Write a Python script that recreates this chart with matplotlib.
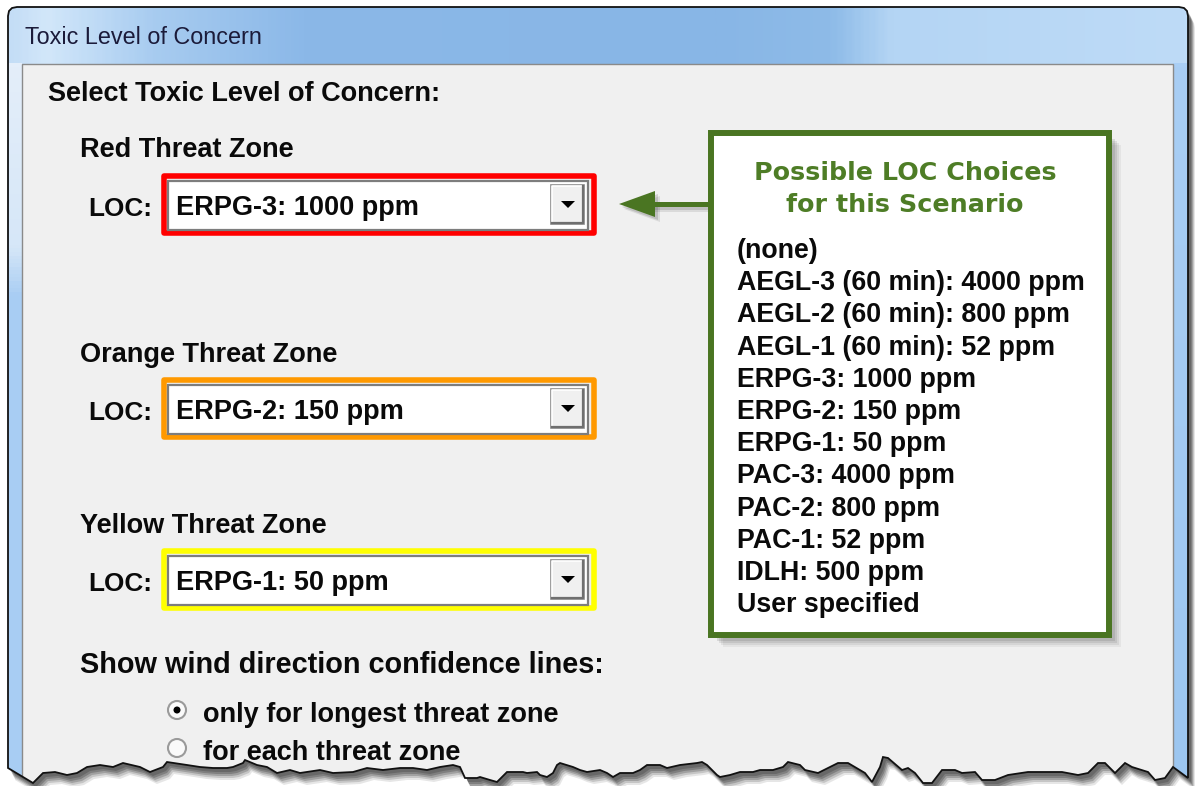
import numpy as np
import matplotlib.pyplot as plt
from matplotlib.patches import Rectangle, Polygon, Circle
from matplotlib.colors import LinearSegmentedColormap

title = "Toxic Level of Concern"
heading = "Select Toxic Level of Concern:"
zones = ["Red Threat Zone", "Orange Threat Zone", "Yellow Threat Zone"]
zone_colors = ["#ff0000", "#ff9900", "#ffff00"]
selected = ["ERPG-3: 1000 ppm", "ERPG-2: 150 ppm", "ERPG-1: 50 ppm"]
callout_title = ["Possible LOC Choices", "for this Scenario"]
loc_choices = ["(none)", "AEGL-3 (60 min): 4000 ppm", "AEGL-2 (60 min): 800 ppm",
               "AEGL-1 (60 min): 52 ppm", "ERPG-3: 1000 ppm", "ERPG-2: 150 ppm",
               "ERPG-1: 50 ppm", "PAC-3: 4000 ppm", "PAC-2: 800 ppm", "PAC-1: 52 ppm",
               "IDLH: 500 ppm", "User specified"]
wind_label = "Show wind direction confidence lines:"
wind_options = ["only for longest threat zone", "for each threat zone"]
wind_selected = 0

# torn bottom edge of the screenshot (pixels)
tear_x = [8, 33, 43, 55, 67, 77, 87, 100, 113, 123, 140, 150, 163, 167, 187, 200, 213, 227,
          233, 243, 245, 257, 267, 277, 290, 300, 320, 333, 353, 367, 383, 400, 413, 427,
          440, 453, 460, 465, 477, 480, 490, 497, 507, 523, 527, 537, 540, 547, 553, 557,
          560, 573, 580, 587, 600, 607, 613, 620, 633, 640, 647, 660, 667, 680, 697, 702,
          707, 717, 720, 730, 740, 753, 760, 773, 783, 788, 800, 805, 818, 838, 848, 865,
          872, 880, 883, 888, 902, 908, 915, 923, 932, 942, 955, 962, 975, 982, 995, 1008,
          1028, 1062, 1078, 1088, 1098, 1105, 1115, 1125, 1132, 1148, 1155, 1165, 1173, 1188]
tear_y = [768, 783, 773, 772, 775, 773, 767, 765, 767, 763, 767, 772, 767, 762, 765, 767, 768, 768,
          767, 763, 760, 765, 767, 773, 770, 773, 770, 773, 772, 768, 770, 768, 768, 770,
          767, 765, 767, 778, 778, 777, 780, 782, 772, 772, 773, 772, 775, 777, 773, 765,
          763, 767, 770, 772, 770, 773, 777, 773, 773, 770, 765, 765, 768, 765, 763, 762,
          765, 775, 777, 775, 772, 772, 770, 770, 767, 762, 765, 770, 773, 763, 763, 773,
          782, 767, 757, 758, 770, 768, 773, 783, 783, 770, 770, 773, 772, 780, 780, 775,
          772, 772, 775, 773, 763, 763, 773, 763, 767, 772, 780, 778, 767, 778]

W, H = 1195, 786
fig = plt.figure(figsize=(W / 100, H / 100), dpi=100)
ax = fig.add_axes([0, 0, 1, 1])
ax.set_xlim(0, W)
ax.set_ylim(H, 0)
ax.axis('off')

fam = ['Liberation Sans', 'DejaVu Sans']
bold = dict(family=fam, weight='bold', size=19.5, color='#0a0a0a')

# window outline: rounded top corners, torn bottom
top = [(8, 16), (9, 11), (12, 8), (17, 7), (1179, 7), (1184, 8), (1187, 11), (1188, 16)]
win_pts = top + list(zip(tear_x[::-1], tear_y[::-1]))
win_pts = np.array(win_pts, dtype=float)

# drop shadow
for (dx, dy), a in [((7, 12), 0.12), ((6, 10), 0.18), ((5, 8), 0.25), ((4, 6), 0.3), ((3, 4), 0.3)]:
    ax.add_patch(Polygon(win_pts + [dx, dy], closed=True, fc='#333333', ec='none',
                         alpha=a, zorder=1))

window = Polygon(win_pts, closed=True, fc='#b9d7f5', ec='none', zorder=2)
ax.add_patch(window)

# title bar gradient
stops = [(0.0, '#c4ddf6'), (0.03, '#d2e7fa'), (0.12, '#a8ccf0'), (0.25, '#8bb8e8'),
         (0.6, '#88b6e6'), (0.7, '#8ebbe8'), (0.75, '#b4d5f4'), (1.0, '#bedbf7')]
cmap = LinearSegmentedColormap.from_list('bar', stops)
grad = np.linspace(0, 1, 400).reshape(1, -1)
img = ax.imshow(grad, cmap=cmap, extent=(8, 1188, 790, 7), aspect='auto', zorder=2.1)
img.set_clip_path(window)

# side strips
left = np.linspace(0, 1, 200).reshape(-1, 1)
lcmap = LinearSegmentedColormap.from_list('ls', [(0, '#e4eefa'), (0.25, '#d6e7f8'),
                                                 (0.32, '#a8cdf3'), (1, '#a8cdf3')])
img2 = ax.imshow(left, cmap=lcmap, extent=(9, 22, 790, 63), aspect='auto', zorder=2.2)
img2.set_clip_path(window)
img3 = ax.imshow(left, cmap=LinearSegmentedColormap.from_list('rs', ['#a9cef4', '#9cc6f0']),
                 extent=(1173, 1187, 790, 63), aspect='auto', zorder=2.2)
img3.set_clip_path(window)

# content area
content = Rectangle((22, 63.5), 1151, 740, fc='#f0f0f0', ec='#8a8a8a', lw=1.0, zorder=2.5)
ax.add_patch(content)
content.set_clip_path(window)

ax.add_patch(Polygon(win_pts, closed=True, fill=False, ec='#111111', lw=1.3, zorder=20))

ax.text(25, 44, title, family=fam, size=16.8, color='#1b1b3a', zorder=5)
ax.text(48, 101, heading, zorder=5, **bold)

# threat zone selectors
label_base = [157, 362, 533]
box_top = [173, 377, 548]
for name, col, sel, yb, y0 in zip(zones, zone_colors, selected, label_base, box_top):
    ax.text(80, yb, name, zorder=5, **bold)
    ax.text(88, y0 + 43, "LOC:", zorder=5, **dict(bold, size=18.8))
    ax.add_patch(Rectangle((164.5, y0 + 2.5), 430, 57, fill=False, ec=col, lw=4.0,
                           joinstyle='round', zorder=5))
    ax.add_patch(Rectangle((168.5, y0 + 7.5), 420, 49, fc='white', ec='#7d7d7d', lw=1.6, zorder=5))
    ax.add_patch(Rectangle((551, y0 + 12), 33, 39, fc='#f0f0f0', ec='#8c8c8c', lw=1.2, zorder=6))
    ax.plot([552, 552, 583], [y0 + 50, y0 + 13, y0 + 13], color='white', lw=1.2, zorder=6.5)
    ax.plot([552, 583, 583], [y0 + 50, y0 + 50, y0 + 13], color='#6f6f6f', lw=1.6, zorder=6.5)
    ax.add_patch(Polygon([(561, y0 + 28), (575, y0 + 28), (568, y0 + 35)], closed=True,
                         fc='black', ec='none', zorder=7))
    ax.text(176, y0 + 42, sel, zorder=6, **bold)

# callout arrow
green = '#4a7522'
for d, a in [(5, 0.12), (3, 0.18)]:
    ax.add_patch(Polygon([(619 + d, 204 + d), (655 + d, 191 + d), (655 + d, 217 + d)],
                         fc='#404040', ec='none', alpha=a, zorder=4))
    ax.add_patch(Rectangle((650 + d, 201.5 + d), 58, 5, fc='#404040', ec='none', alpha=a, zorder=4))
ax.add_patch(Polygon([(619, 204), (655, 191), (655, 217)], fc=green, ec='none', zorder=5))
ax.add_patch(Rectangle((650, 201.5), 60, 5, fc=green, ec='none', zorder=5))

# callout box
for d, a in [(12, 0.06), (10, 0.08), (8, 0.1), (6, 0.12)]:
    ax.add_patch(Rectangle((711 + d, 133 + d), 398, 502, fc='#303030', ec='none', alpha=a, zorder=4))
ax.add_patch(Rectangle((711, 133), 398, 502, fc='white', ec=green, lw=4.3, zorder=5))
for i, line in enumerate(callout_title):
    ax.text(905, 180 + i * 32, line, ha='center', family=['DejaVu Sans'], weight='bold',
            size=18.3, color='#4e7d26', zorder=6)
for i, item in enumerate(loc_choices):
    ax.text(737, 258 + i * 32.2, item, zorder=6, **dict(bold, size=19.3))

# wind direction radios
ax.text(80, 673, wind_label, zorder=5, **dict(bold, size=20.8))
for i, opt in enumerate(wind_options):
    cy = 710 + i * 38
    ax.add_patch(Circle((177, cy), 9, fc='#fafafa', ec='#9a9a9a', lw=1.5, zorder=5))
    if i == wind_selected:
        ax.add_patch(Circle((177, cy), 3.5, fc='black', ec='none', zorder=6))
    ax.text(203, cy + 12, opt, zorder=5, **bold)

fig.savefig('out.png', dpi=100, facecolor='white')
